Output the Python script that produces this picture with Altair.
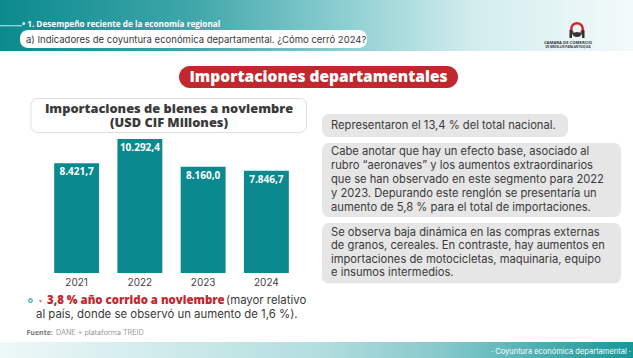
import altair as alt
import pandas as pd

# ---- data ----
years = ["2021", "2022", "2023", "2024"]
values = [8421.7, 10292.4, 8160.0, 7846.7]
value_labels = ["8.421,7", "10.292,4", "8.160,0", "7.846,7"]

header_kicker = "• 1. Desempeño reciente de la economía regional"
header_title = "a) Indicadores de coyuntura económica departamental. ¿Cómo cerró 2024?"
section_title = "Importaciones departamentales"
chart_title = ["Importaciones de bienes a noviembre", "(USD CIF Millones)"]
box1 = ["Representaron el 13,4 % del total nacional."]
box2 = [
    "Cabe anotar que hay un efecto base, asociado al",
    "rubro “aeronaves” y los aumentos extraordinarios",
    "que se han observado en este segmento para 2022",
    "y 2023. Depurando este renglón se presentaría un",
    "aumento de 5,8 % para el total de importaciones.",
]
box3 = [
    "Se observa baja dinámica en las compras externas",
    "de granos, cereales. En contraste, hay aumentos en",
    "importaciones de motocicletas, maquinaria, equipo",
    "e insumos intermedios.",
]
note_bold = "3,8 % año corrido a noviembre"
note_rest1 = "(mayor relativo"
note_rest2 = "al país, donde se observó un aumento de 1,6 %)."
source_bold = "Fuente:"
source_rest = "DANE + plataforma TREID"
footer = "· Coyuntura económica departamental ·"

TEAL = "#0a8a8e"
RED = "#c1272d"
DARK = "#3a3a3a"
FONT = "Inter"
BOLD = "Open Sans"

df = pd.DataFrame({"year": years, "value": values, "label": value_labels})
one = alt.Data(values=[{"a": 1}])


def rect(x, x2, y, y2, **kw):
    return alt.Chart(one).mark_rect(**kw).encode(
        x=alt.value(x), x2=alt.value(x2), y=alt.value(y), y2=alt.value(y2)
    )


def text(t, x, y, **kw):
    return alt.Chart(one).mark_text(text=t, baseline="middle", **kw).encode(
        x=alt.value(x), y=alt.value(y)
    )


layers = []

# header gradient band
layers.append(rect(0, 633, 0, 51, fill=alt.LinearGradient(
    gradient="linear", x1=0, x2=1, y1=0, y2=0,
    stops=[alt.GradientStop(color="#0b8a8e", offset=0),
           alt.GradientStop(color="#3ea6a9", offset=0.3),
           alt.GradientStop(color="#8fd0d2", offset=0.55),
           alt.GradientStop(color="#d3edee", offset=0.75),
           alt.GradientStop(color="#f3fafa", offset=1)])))
# footer gradient band
layers.append(rect(0, 633, 342, 358, fill=alt.LinearGradient(
    gradient="linear", x1=0, x2=1, y1=0, y2=0,
    stops=[alt.GradientStop(color="#eef8f8", offset=0),
           alt.GradientStop(color="#b3dedf", offset=0.5),
           alt.GradientStop(color="#86c9cb", offset=0.7),
           alt.GradientStop(color="#15979a", offset=1)])))

# header texts
layers.append(rect(0, 22, 25.4, 26.2, fill="white"))
layers.append(text(header_kicker, 22, 25, align="left", font=BOLD, fontWeight="bold",
                   fontSize=8.2, color="white"))
layers.append(rect(20, 367, 30, 48, fill="white", cornerRadius=8))
layers.append(text(header_title, 26, 39.5, align="left", font=FONT, fontSize=9.5,
                   color=DARK))

# logo (simplified)
layers.append(alt.Chart(one).mark_arc(theta=3.9, theta2=8.66, radius=7, radius2=4.5,
                                      fill="#d0262d").encode(x=alt.value(577), y=alt.value(29)))
layers.append(alt.Chart(one).mark_arc(theta=1.75, theta2=4.53, radius=5, radius2=0,
                                      fill="#333").encode(x=alt.value(577), y=alt.value(32)))
layers.append(rect(569.5, 572, 30, 38, fill="#333"))
layers.append(rect(582, 584.5, 30, 38, fill="#333"))
layers.append(text("CAMARA DE COMERCIO", 568, 42.5, align="center", font=BOLD,
                   fontWeight="bold", fontSize=4.2, color="#333"))
layers.append(text("DE MEDELLIN PARA ANTIOQUIA", 568, 47, align="center", font=BOLD,
                   fontWeight="bold", fontSize=2.9, color="#333"))

# red section pill
layers.append(rect(179, 458, 66, 88, fill=RED, cornerRadius=11))
layers.append(text(section_title, 318.5, 77, align="center", font=BOLD, fontWeight=800,
                   fontSize=15.5, color="white"))

# chart title box
layers.append(rect(31, 306.5, 98.5, 132.5, fill="white", stroke="#d6d6d6",
                   strokeWidth=0.8, cornerRadius=7))
layers.append(text(chart_title[0], 169, 108.8, align="center", font=BOLD, fontWeight=800,
                   fontSize=12.8, color=DARK))
layers.append(text(chart_title[1], 169, 123, align="center", font=BOLD, fontWeight=800,
                   fontSize=12.8, color=DARK))

# right text boxes
BODY = 11.2
layers.append(rect(322, 568, 114, 137, fill="#e6e6e6", cornerRadius=7))
layers.append(text(box1[0], 331, 125.5, align="left", font=FONT, fontSize=BODY, color=DARK))
layers.append(rect(322, 621, 143, 217, fill="#e6e6e6", cornerRadius=7))
for i, line in enumerate(box2):
    layers.append(text(line, 331, 152 + i * 13.9, align="left", font=FONT, fontSize=BODY,
                       color=DARK))
layers.append(rect(322, 621, 223, 283.5, fill="#e6e6e6", cornerRadius=7))
for i, line in enumerate(box3):
    layers.append(text(line, 331, 232.5 + i * 13.6, align="left", font=FONT, fontSize=BODY,
                       color=DARK))

# bars
xscale = alt.Scale(domain=years, range=[45, 298], paddingInner=0.29, paddingOuter=0.145)
yscale = alt.Scale(domain=[0, 10292.4], range=[273, 139], nice=False, zero=True)
base = alt.Chart(df)
layers.append(base.mark_bar(color=TEAL).encode(
    x=alt.X("year:N", scale=xscale, axis=None),
    y=alt.Y("value:Q", scale=yscale, axis=None),
))
layers.append(base.mark_text(baseline="middle", dy=9, font=BOLD, fontWeight="bold",
                             fontSize=10, color="white").encode(
    x=alt.X("year:N", scale=xscale, axis=None),
    y=alt.Y("value:Q", scale=yscale, axis=None),
    text="label:N",
))
layers.append(base.mark_text(baseline="middle", font=FONT, fontSize=10, color="#444").encode(
    x=alt.X("year:N", scale=xscale, axis=None),
    y=alt.value(283),
    text="year:N",
))

# bottom note
layers.append(alt.Chart(one).mark_point(shape="circle", size=12, stroke=TEAL, strokeWidth=1.3,
                                        filled=False).encode(x=alt.value(30.5), y=alt.value(300.5)))
layers.append(alt.Chart(one).mark_point(shape="triangle-down", size=10, fill=RED, filled=True,
                                        color=RED).encode(x=alt.value(40.5), y=alt.value(301.5)))
layers.append(text(note_bold, 47, 301, align="left", font=BOLD, fontWeight=800, fontSize=11.4,
                   color=RED))
layers.append(text(note_rest1, 226, 301, align="left", font=FONT, fontSize=11.4, color=DARK))
layers.append(text(note_rest2, 36, 315, align="left", font=FONT, fontSize=11.4, color=DARK))
layers.append(text(source_bold, 26.5, 333, align="left", font=BOLD, fontWeight="bold",
                   fontSize=7, color="#777"))
layers.append(text(source_rest, 56, 333, align="left", font=FONT, fontSize=7.2, color="#999"))

# footer text
layers.append(text(footer, 631, 352, align="right", font=FONT, fontSize=7.5, color="white"))

chart = alt.layer(*layers).properties(
    width=633, height=358, autosize=alt.AutoSizeParams(type="none"), padding=0,
    background="white",
).configure_view(stroke=None)

chart.save("out.html", embed_options={"renderer": "svg", "actions": False})
